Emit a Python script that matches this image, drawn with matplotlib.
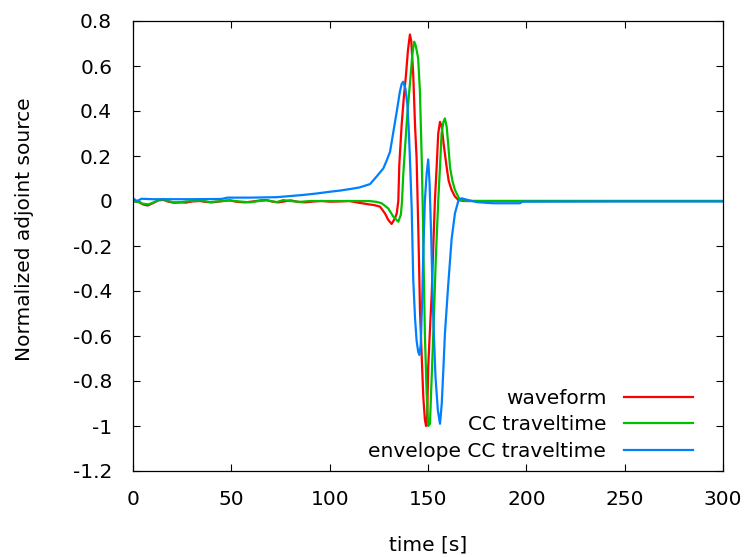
"""
plot.py
Normalized adjoint sources (waveform / CC traveltime / envelope CC traveltime)
Saves out.png next to this file.
"""

import matplotlib
matplotlib.use("Agg")
import matplotlib.pyplot as plt
import matplotlib.ticker as ticker

# ---------------------------------------------------------------------------
# Data
# ---------------------------------------------------------------------------

wave_t = [0, 3, 5, 7.5, 10, 13, 15.4, 18, 21, 24, 27, 30, 34, 37, 40, 44, 49, 53,
          57, 61, 65, 68, 71, 74, 77, 80, 84, 88, 92, 96, 100, 105, 110, 115, 120,
          122.5, 125.6, 128.1, 129.8, 131.5, 133.2, 134.1, 134.9, 135.4, 136.6,
          137.7, 138.8, 139.8, 140.8, 141.5, 142.5, 143.4, 144.2, 145.0, 145.5,
          145.9, 146.8, 147.6, 148.4, 149.0, 149.6, 150.1, 151.0, 151.9, 152.7,
          153.5, 154.4, 155.2, 156.1, 157.0, 158.0, 159.5, 160.5, 162.0, 163.7,
          165.4, 168, 200, 250, 300]
wave_a = [0.0, -0.005, -0.015, -0.02, -0.01, 0.003, 0.005, -0.003, -0.008, -0.006,
          -0.007, -0.002, 0.0, -0.004, -0.006, -0.002, 0.003, -0.004, -0.006, -0.002,
          0.003, 0.004, -0.003, -0.006, -0.002, 0.003, -0.004, -0.006, -0.002, 0.0,
          -0.003, -0.002, 0.0, -0.008, -0.015, -0.018, -0.025, -0.055, -0.084, -0.102,
          -0.077, -0.055, 0.0, 0.16, 0.338, 0.46, 0.56, 0.67, 0.74, 0.71, 0.56, 0.338,
          0.19, -0.1, -0.3, -0.48, -0.69, -0.87, -0.97, -1.0, -0.95, -0.74, -0.57,
          -0.41, -0.2, 0.0, 0.152, 0.30, 0.352, 0.33, 0.25, 0.15, 0.09, 0.049, 0.02,
          0.005, 0.0, 0.0, 0.0, 0.0]

cc_t = [0, 3, 5, 7.8, 10, 13, 15.4, 18, 20.5, 23.9, 27, 30, 35, 39, 43, 49, 54,
        59.5, 64, 68, 73, 76.4, 80, 84.9, 90, 100, 110, 120, 124, 126.4, 129.8,
        132.4, 134.9, 136.2, 136.8, 137.4, 138.2, 139.1, 140.2, 141.2, 142.0, 143.0,
        143.8, 145.0, 145.9, 146.8, 147.4, 147.8, 148.4, 149.3, 150.1, 151.0, 151.8,
        152.7, 154.0, 155.2, 156.1, 156.9, 157.8, 158.6, 159.5, 160.3, 161.2, 162.4,
        163.7, 166.2, 170, 300]
cc_a = [0.0, -0.005, -0.012, -0.015, -0.008, 0.004, 0.008, 0.0, -0.006, -0.006,
        -0.002, 0.0, 0.002, -0.005, -0.002, 0.003, -0.002, -0.006, 0.0, 0.003,
        -0.005, 0.004, 0.0, -0.004, 0.0, 0.0, 0.0, 0.0, -0.004, -0.01, -0.033, -0.07,
        -0.092, -0.06, 0.0, 0.115, 0.22, 0.338, 0.46, 0.56, 0.65, 0.708, 0.69, 0.634,
        0.486, 0.19, -0.06, -0.29, -0.59, -0.85, -1.0, -0.99, -0.8, -0.59, -0.25,
        0.0, 0.152, 0.30, 0.35, 0.367, 0.33, 0.25, 0.15, 0.09, 0.049, 0.005, 0.0, 0.0]

env_t = [0, 2, 4.4, 10, 20, 30, 45, 48, 60, 73, 80, 86.6, 93, 100, 105, 110.3, 115,
         120.5, 124, 127.3, 129, 130.7, 132.4, 134.1, 135.7, 136.6, 137.4, 138.5,
         139.5, 140.3, 140.8, 141.7, 142.5, 143.4, 144.2, 145.0, 145.6, 146.3, 147.0,
         147.7, 148.4, 149.3, 150.1, 150.8, 151.6, 152.3, 153.0, 153.8, 155.0, 156.1,
         157.0, 157.8, 158.6, 160.3, 162.0, 163.7, 165.4, 167.0, 170, 175, 183, 196.7,
         198, 250, 300]
env_a = [0.012, 0.0, 0.01, 0.008, 0.008, 0.008, 0.009, 0.015, 0.015, 0.017, 0.022,
         0.027, 0.033, 0.041, 0.046, 0.053, 0.06, 0.075, 0.11, 0.145, 0.18, 0.219,
         0.308, 0.397, 0.486, 0.52, 0.53, 0.5, 0.43, 0.3, 0.19, -0.03, -0.35, -0.52,
         -0.62, -0.67, -0.684, -0.64, -0.45, -0.2, 0.0, 0.12, 0.185, 0.08, -0.15, -0.4,
         -0.6, -0.78, -0.93, -0.99, -0.9, -0.75, -0.59, -0.37, -0.17, -0.055, 0.0,
         0.012, 0.005, -0.005, -0.01, -0.01, -0.003, -0.002, -0.002]

X_TICKS = [0, 50, 100, 150, 200, 250, 300]
Y_TICKS = [-1.2, -1.0, -0.8, -0.6, -0.4, -0.2, 0.0, 0.2, 0.4, 0.6, 0.8]

# ---------------------------------------------------------------------------
# Plot
# ---------------------------------------------------------------------------

RED   = "#ff0000"
GREEN = "#00c000"
BLUE  = "#0080ff"
FS    = 14.5

plt.rcParams["font.family"] = ["DejaVu Sans"]
plt.rcParams["axes.unicode_minus"] = False

fig = plt.figure(figsize=(7.47, 5.57), dpi=100)
ax = fig.add_axes([133 / 747, 1 - 471 / 557, 590 / 747, 450 / 557])

ax.plot(wave_t, wave_a, color=RED,   lw=1.6, label="waveform")
ax.plot(cc_t,   cc_a,   color=GREEN, lw=1.6, label="CC traveltime")
ax.plot(env_t,  env_a,  color=BLUE,  lw=1.6, label="envelope CC traveltime")

ax.set_xlim(0, 300)
ax.set_ylim(-1.2, 0.8)
ax.set_xticks(X_TICKS)
ax.set_yticks(Y_TICKS)
ax.yaxis.set_major_formatter(ticker.FuncFormatter(lambda v, _: f"{round(v, 2):g}"))
ax.tick_params(direction="in", top=True, right=True, length=5, width=0.8,
               labelsize=FS)
ax.tick_params(axis="x", pad=14)
ax.tick_params(axis="y", pad=15)
for sp in ax.spines.values():
    sp.set_linewidth(0.9)

ax.set_xlabel("time [s]", fontsize=FS, labelpad=19)
fig.text(25 / 747, 1 - 229 / 557, "Normalized adjoint source", fontsize=FS,
         rotation=90, ha="center", va="center")

ax.legend(loc="lower right", bbox_to_anchor=(1 - 22 / 590, 0.005),
          frameon=False, markerfirst=False, fontsize=FS,
          handlelength=3.4, handletextpad=0.9, labelspacing=0.36,
          borderaxespad=0.0)

fig.savefig("out.png", dpi=100)
